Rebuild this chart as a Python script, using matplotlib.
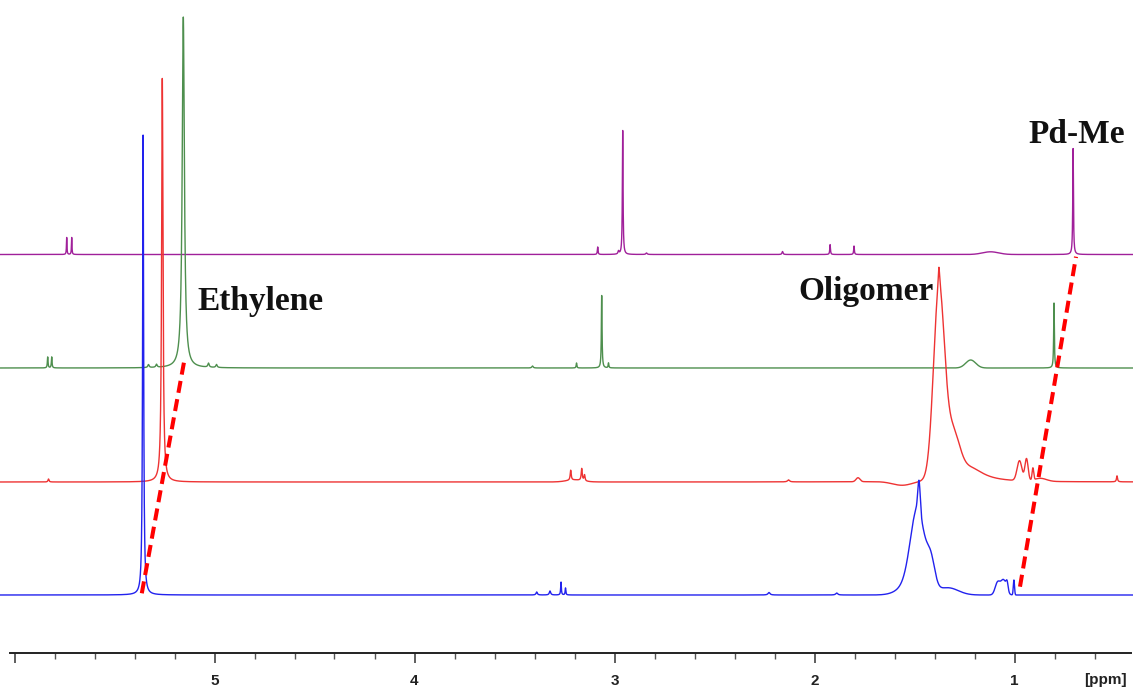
import numpy as np
import matplotlib
matplotlib.use("Agg")
import matplotlib.pyplot as plt
from matplotlib.ticker import FixedLocator, FixedFormatter

# ---------------- data (ppm, height, width, shape) ----------------
# shape: 'L' Lorentzian (width = HWHM), 'G' Gaussian (width = sigma)
blue_baseline = 58.3
blue_peaks = [
    (5.357, 460, 0.003, 'L'),
    (3.389, 3, 0.004, 'L'), (3.3225, 4, 0.004, 'L'),
    (3.2675, 13, 0.002, 'L'), (3.245, 7, 0.002, 'L'),
    (2.2275, 2.5, 0.006, 'L'), (1.889, 2, 0.006, 'L'),
    (1.4775, 30, 0.006, 'G'), (1.485, 72, 0.034, 'G'),
    (1.50, 15, 0.06, 'G'), (1.418, 26, 0.02, 'G'), (1.33, 7, 0.05, 'G'),
    (1.085, 12, 0.012, 'G'), (1.055, 15, 0.014, 'G'),
    (1.037, 8, 0.005, 'G'), (1.003, 15, 0.003, 'G'),
]

red_baseline = 171.3
red_peaks = [
    (5.261, 404, 0.004, 'L'), (5.83, 3, 0.003, 'L'),
    (3.219, 10, 0.003, 'L'), (3.164, 12, 0.003, 'L'), (3.15, 6, 0.003, 'L'),
    (3.2, 2, 0.04, 'G'), (2.13, 2, 0.006, 'L'), (1.7825, 4, 0.01, 'G'),
    (1.56, -4, 0.05, 'G'),
    (1.378, 185, 0.0272, 'G'), (1.378, 20, 0.004, 'L'),
    (1.31, 45, 0.035, 'G'), (1.22, 14, 0.08, 'L'),
    (0.975, 20, 0.012, 'G'), (0.94, 22, 0.008, 'G'),
    (0.908, 12, 0.004, 'G'), (0.87, 3, 0.03, 'G'),
    (0.4875, 6, 0.003, 'L'),
]

green_baseline = 285.3
green_peaks = [
    (5.156, 351, 0.0065, 'L'),
    (5.834, 11, 0.002, 'L'), (5.814, 11, 0.002, 'L'),
    (5.33, 3, 0.004, 'L'), (5.29, 3, 0.004, 'L'),
    (5.03, 4, 0.004, 'L'), (4.99, 3, 0.004, 'L'),
    (3.41, 2, 0.004, 'L'), (3.19, 5, 0.002, 'L'),
    (3.064, 73, 0.002, 'L'), (3.03, 5, 0.002, 'L'),
    (1.219, 8, 0.025, 'G'), (0.8025, 65, 0.002, 'L'),
]

purple_baseline = 398.8
purple_peaks = [
    (5.739, 17, 0.0015, 'L'), (5.714, 17, 0.0015, 'L'),
    (3.084, 7.5, 0.002, 'L'), (2.98, 3, 0.003, 'L'),
    (2.959, 124, 0.002, 'L'), (2.84, 1.5, 0.004, 'L'),
    (2.16, 3, 0.003, 'L'), (1.922, 10, 0.002, 'L'),
    (1.8025, 8.5, 0.002, 'L'), (1.12, 2.7, 0.04, 'G'),
    (0.707, 106, 0.002, 'L'),
]

spectra = [
    ("purple", purple_baseline, purple_peaks, "#a0209a"),
    ("green", green_baseline, green_peaks, "#4e8f4e"),
    ("red", red_baseline, red_peaks, "#ee3333"),
    ("blue", blue_baseline, blue_peaks, "#2222ee"),
]

# dashed guide lines (ppm, intensity)
ethylene_guide_ppm = [5.3635, 5.1475]
ethylene_guide_y = [60.0, 296.6]
pdme_guide_ppm = [0.9725, 0.6925]
pdme_guide_y = [66.6, 396.6]

labels = [("Ethylene", 5.0875, 343.3), ("Oligomer", 2.0825, 353.3), ("Pd-Me", 0.9325, 510.3)]

major_ticks = [6, 5, 4, 3, 2, 1]
major_labels = ["", "5", "4", "3", "2", "1"]
minor_ticks = [5.8, 5.6, 5.4, 5.2, 4.8, 4.6, 4.4, 4.2, 3.8, 3.6, 3.4, 3.2,
               2.8, 2.6, 2.4, 2.2, 1.8, 1.6, 1.4, 1.2, 0.8, 0.6]

# ---------------- drawing ----------------
def peak(x, x0, h, w, kind):
    if kind == 'L':
        return h * w ** 2 / ((x - x0) ** 2 + w ** 2)
    return h * np.exp(-0.5 * ((x - x0) / w) ** 2)

W, H = 1133, 688
fig = plt.figure(figsize=(W / 100, H / 100), dpi=100)
axis_px = 653.3
ax = fig.add_axes([0, (H - axis_px) / H, 1, axis_px / H])
xl, xr = 6.0725, 0.4075
ax.set_xlim(xl, xr)
ax.set_ylim(0, axis_px)

x = np.linspace(xl, xr, 14000)
for name, base, peaks, col in spectra:
    y = np.full_like(x, base)
    for (x0, h, w, k) in peaks:
        y += peak(x, x0, h, w, k)
    ax.plot(x, y, color=col, lw=1.0, solid_joinstyle='round')

for gx, gy in [(ethylene_guide_ppm, ethylene_guide_y), (pdme_guide_ppm, pdme_guide_y)]:
    ax.plot(gx, gy, color="#ff0000", lw=2.9, dashes=(3, 1.6), solid_capstyle='butt')

for txt, lx, ly in labels:
    ax.text(lx, ly, txt, family="Liberation Serif", fontweight="bold",
            fontsize=24, ha="left", va="baseline", color="#111111")

for s in ["top", "left", "right"]:
    ax.spines[s].set_visible(False)
ax.spines["bottom"].set_bounds(6.0225, 0.4175)
ax.spines["bottom"].set_linewidth(1.4)
ax.spines["bottom"].set_color("#222222")
ax.set_yticks([])
ax.xaxis.set_major_locator(FixedLocator(major_ticks))
ax.xaxis.set_major_formatter(FixedFormatter(major_labels))
ax.xaxis.set_minor_locator(FixedLocator(minor_ticks))
ax.tick_params(axis="x", which="major", direction="out", length=7.2, width=1.1,
               color="#333333", pad=7.5, labelsize=11, labelcolor="#222222")
ax.tick_params(axis="x", which="minor", direction="out", length=4.3, width=1.0,
               color="#555555")
for lab in ax.get_xticklabels():
    lab.set_family("Liberation Sans")
    lab.set_fontweight("bold")

fig.text(1105 / W, 1 - 680 / H, "[ppm]", family="Liberation Sans", fontweight="bold",
         fontsize=11, ha="center", va="center", color="#222222")

fig.savefig("out.png", dpi=100)
